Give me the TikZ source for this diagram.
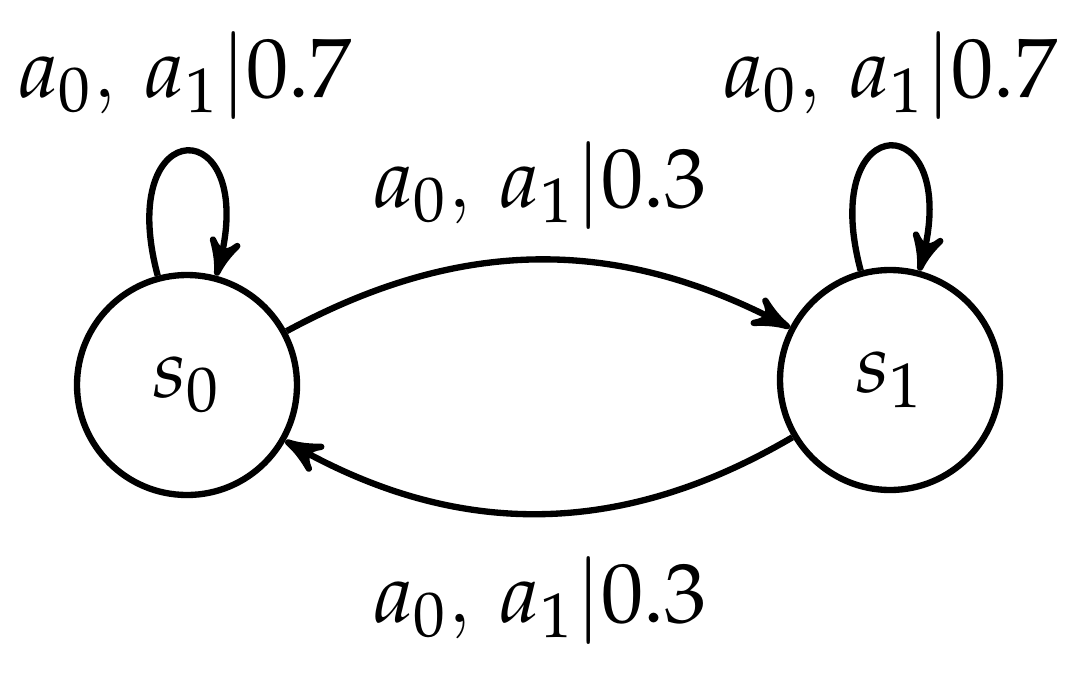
\documentclass[tikz,border=0pt]{standalone}
\usepackage{mathpazo}
\usetikzlibrary{arrows,automata,positioning}

\begin{document}
\begin{tikzpicture}[>=stealth', line width=0.9pt, font=\large,
  state/.style={circle, draw, minimum size=1.1cm, inner sep=0pt},
  lab/.style={inner sep=1pt}]
\useasboundingbox (0,0) rectangle (5.375,3.375);
\node[state] (s0) at (0.935,1.45) {$s_0$};
\node[state] (s1) at (4.45,1.475) {$s_1$};

\node[lab] (l00) at (0.925,3.0) {$a_0$, $a_1|0.7$};
\node[lab] (l11) at (4.45,3.0) {$a_0$, $a_1|0.7$};
\node[lab] (l01) at (2.7,2.45) {$a_0$, $a_1|0.3$};
\node[lab] (l10) at (2.7,0.375) {$a_0$, $a_1|0.3$};

\path[->] (s0) edge[out=105, in=75, looseness=7.5] (s0)
          (s1) edge[out=105, in=75, looseness=7.5] (s1)
          (s0) edge[bend left=28] (s1)
          (s1) edge[bend left=30] (s0);
\end{tikzpicture}
\end{document}
